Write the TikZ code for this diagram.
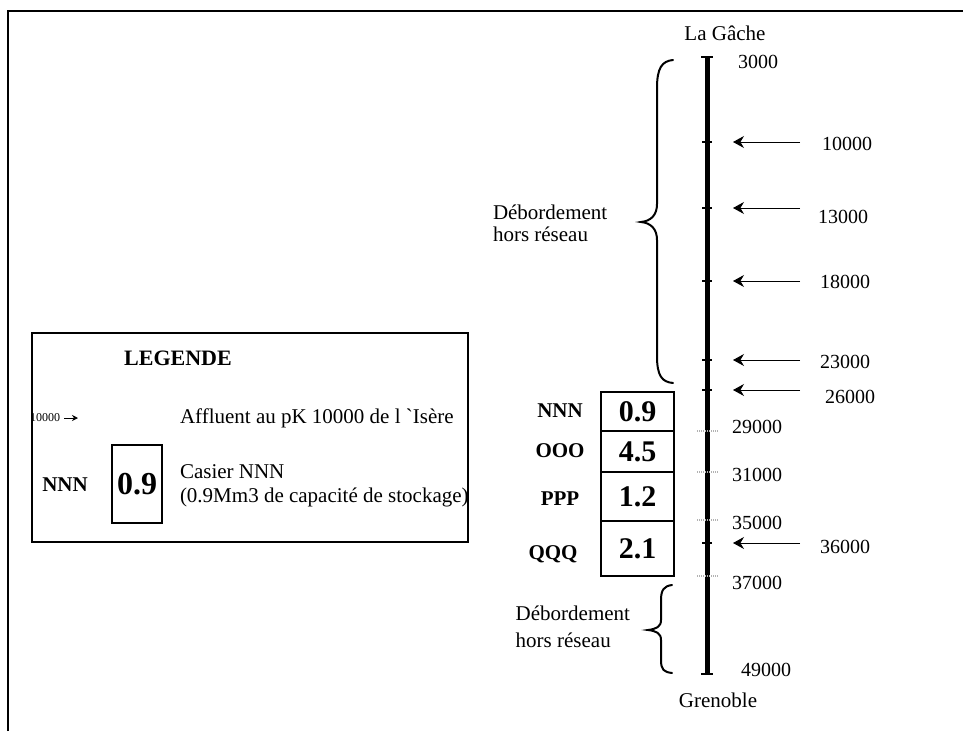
\documentclass[tikz,border=0pt]{standalone}
\usepackage{fontspec}
\setmainfont{Liberation Serif}
\usetikzlibrary{arrows.meta}
\begin{document}
\begin{tikzpicture}[x=1pt,y=-1pt,
  every node/.style={inner sep=0pt, outer sep=0pt},
  txt/.style={font=\fontsize{21}{25}\selectfont},
  num/.style={font=\fontsize{20}{24}\selectfont},
  small/.style={font=\fontsize{12}{14}\selectfont},
  boldlbl/.style={font=\fontsize{21}{25}\selectfont\bfseries},
  bignum/.style={font=\fontsize{30}{34}\selectfont\bfseries},
  casier/.style={draw, line width=2.5pt, minimum width=73pt},
  affl/.style={line width=1pt, -{Stealth[length=11pt,width=12pt]}},
  tickmark/.style={line width=2pt},
  graytick/.style={line width=2.5pt, gray!60, dash pattern=on 1.2pt off 0.8pt},
  brace/.style={line width=2pt, line cap=round}]
\useasboundingbox (0,0) rectangle (963,731);
% frame
\draw[line width=1.3pt] (8,731) -- (8,11) -- (963,11);

% ---------------- legend ----------------
\draw[line width=1.6pt] (32,333) rectangle (468,542);
\node[font=\fontsize{22}{26}\selectfont\bfseries] (leg) at (178,358) {LEGENDE};
\node[small, anchor=east] (leg10) at (60,418) {10000};
\coordinate (la1) at (64,418);
\coordinate (la2) at (78,418);
\draw[line width=0.8pt, -{Stealth[length=6pt,width=6pt]}] (la1) -- (la2);
\node[txt, anchor=west] (legaff) at (180,418) {Affluent au pK 10000 de l \textasciigrave Isère};
\node[boldlbl] (legN) at (65,485) {NNN};
\node[draw, line width=2.5pt, minimum width=50pt, minimum height=78pt,
      font=\fontsize{32}{36}\selectfont\bfseries] (legbox) at (137,484) {0.9};
\node[txt, anchor=west] (legc1) at (180,472) {Casier NNN};
\node[txt, anchor=west] (legc2) at (180,497) {(0.9Mm3 de capacité de stockage)};

% ---------------- axis ----------------
\coordinate (top) at (707,57);
\coordinate (bot) at (707,674);
\draw[line width=5pt] (top) -- (bot);
\draw[tickmark] ([xshift=-6pt]top) -- ([xshift=6pt]top);
\draw[tickmark] ([xshift=-6pt]bot) -- ([xshift=6pt]bot);
\node[txt] (gache) at (725,33) {La Gâche};
\node[txt] (gren) at (718,700) {Grenoble};
\node[num] (l3) at (758,62) {3000};
\node[num] (l49) at (766,670) {49000};

% affluent ticks and arrows
\foreach \nm/\yy/\lx/\ly in {10/142/847/144, 13/208/843/217, 18/281/845/282,
                              23/360/845/362, 26/390/850/397, 36/543/845/547}{
  \coordinate (t\nm) at (707,\yy);
  \coordinate (s\nm) at (800,\yy);
  \draw[tickmark] ([xshift=-5pt]t\nm) -- ([xshift=5pt]t\nm);
  \draw[affl, shorten >=26pt] (s\nm) -- (t\nm);
  \node[num] (l\nm) at (\lx,\ly) {\nm000};
}

% casier limits
\foreach \nm/\yy/\ly in {29/431/427, 31/472/475, 35/520/523, 37/576/583}{
  \coordinate (g\nm) at (707,\yy);
  \draw[graytick] ([xshift=-10pt]g\nm) -- ([xshift=11pt]g\nm);
  \node[num] (l\nm) at (757,\ly) {\nm000};
}

% ---------------- casiers ----------------
\node[casier, minimum height=39pt, bignum] (cN) at (637.5,411.5) {0.9};
\node[casier, minimum height=41pt, bignum] (cO) at (637.5,451.5) {4.5};
\node[casier, minimum height=49pt, bignum] (cP) at (637.5,496.5) {1.2};
\node[casier, minimum height=55pt, bignum] (cQ) at (637.5,548.5) {2.1};
\node[boldlbl] (nN) at (560,411) {NNN};
\node[boldlbl] (nO) at (560,451) {OOO};
\node[boldlbl] (nP) at (560,499) {PPP};
\node[boldlbl] (nQ) at (553,554) {QQQ};

% ---------------- braces ----------------
\draw[brace] (673,60) .. controls (662,61) and (657,68) .. (657,88)
  -- (657,204) .. controls (657,215) and (651,221) .. (641,222)
  .. controls (651,223) and (657,229) .. (657,240)
  -- (657,356) .. controls (657,376) and (662,382) .. (673,383);
\node[txt, anchor=west] (deb1) at (493,212) {Débordement};
\node[txt, anchor=west] (deb1b) at (493,234) {hors réseau};

\draw[brace] (672,585) .. controls (664,586) and (661,590) .. (661,600)
  -- (661,620) .. controls (661,627) and (656,629) .. (648,630)
  .. controls (656,631) and (661,633) .. (661,640)
  -- (661,660) .. controls (661,670) and (664,672) .. (672,673);
\node[txt, anchor=east] (deb2) at (630,613) {Débordement};
\node[txt, anchor=west] (deb2b) at (deb2.west |- 0,640) {hors réseau};
\end{tikzpicture}
\end{document}
